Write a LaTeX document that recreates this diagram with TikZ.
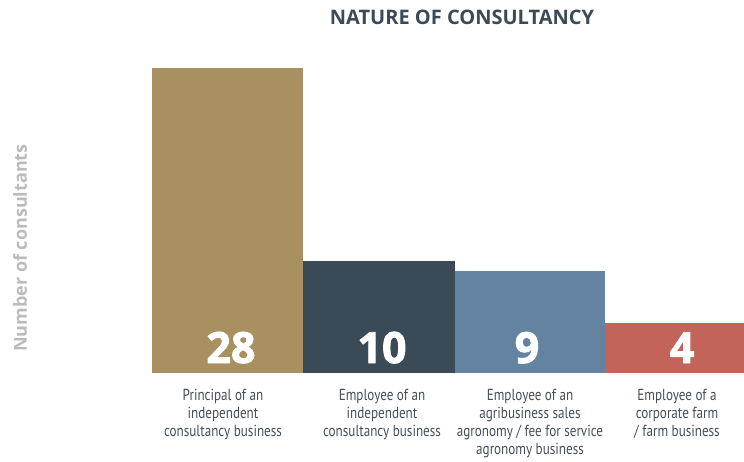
\documentclass[tikz,border=0pt]{standalone}
\usepackage{fontspec}
\setmainfont{Open Sans}
\newfontfamily\labelfont[FakeStretch=0.82]{PT Sans}
\newfontfamily\titlefont{Open Sans}
\newfontfamily\valuefont[FakeBold=2]{Open Sans}
\usetikzlibrary{positioning}

\definecolor{gold}{HTML}{A89060}
\definecolor{slate}{HTML}{3A4A56}
\definecolor{steel}{HTML}{6483A0}
\definecolor{brick}{HTML}{C26459}
\definecolor{textgrey}{HTML}{434F59}
\definecolor{axisgrey}{HTML}{BBBBBB}

\begin{document}
\begin{tikzpicture}[x=1pt,y=-1pt,
   bar/.style={anchor=south west,inner sep=0pt,outer sep=0pt},
   value/.style={text=white,anchor=base,inner sep=0pt,
       font=\valuefont\bfseries\fontsize{43}{43}\selectfont},
   caption/.style={text=textgrey,align=center,anchor=north,inner sep=0pt,
       font=\labelfont\fontsize{16}{18}\selectfont},
   heading/.style={text=slate,inner sep=0pt,
       font=\titlefont\bfseries\fontsize{20}{20}\selectfont},
   axislabel/.style={text=axisgrey,inner sep=0pt,rotate=90,
       font=\bfseries\fontsize{18}{18}\selectfont}]

\useasboundingbox (0,0) rectangle (744,461);

\node[heading] (title) at (462,17) {NATURE OF CONSULTANCY};
\node[axislabel] (ylab) at (20,248) {Number of consultants};

% bars
\node[bar,fill=gold,minimum width=151pt,minimum height=305pt] (b1) at (152,373) {};
\node[bar,fill=slate,minimum width=152pt,minimum height=112pt] (b2) at (303,373) {};
\node[bar,fill=steel,minimum width=150pt,minimum height=102pt] (b3) at (455,373) {};
\node[bar,fill=brick,minimum width=139pt,minimum height=50pt] (b4) at (605,373) {};

% values
\node[value] (v1) at ([xshift=3.5pt,yshift=10pt]b1.south) {28};
\node[value] (v2) at ([xshift=3pt,yshift=10pt]b2.south) {10};
\node[value] (v3) at ([xshift=-3pt,yshift=10pt]b3.south) {9};
\node[value] (v4) at ([xshift=7.5pt,yshift=10pt]b4.south) {4};

% captions
\node[caption,below=16pt of b1.south,xshift=-4.5pt] (c1)
    {Principal of an\\independent\\consultancy business};
\node[caption,below=16pt of b2.south,xshift=3pt] (c2)
    {Employee of an\\independent\\consultancy business};
\node[caption,below=16pt of b3.south] (c3)
    {Employee of an\\agribusiness sales\\agronomy / fee for service\\agronomy business};
\node[caption,below=16pt of b4.south,xshift=2.5pt] (c4)
    {Employee of a\\corporate farm\\/ farm business};

\end{tikzpicture}
\end{document}
